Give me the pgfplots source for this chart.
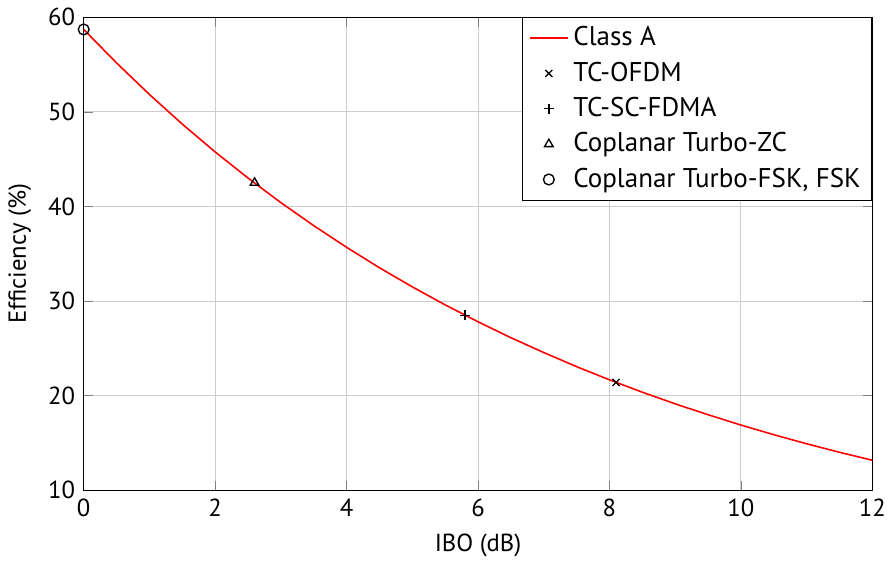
\documentclass[border=0pt,11pt]{standalone}
\usepackage{pgfplots}
\pgfplotsset{compat=1.18}
\usepackage{fontspec}
\setmainfont{PT Sans}
\begin{document}
\begin{tikzpicture}
\begin{axis}[
  scale only axis,
  width=350pt, height=210pt,
  xmin=0, xmax=12, ymin=10, ymax=60,
  xtick={0,2,...,12}, ytick={10,20,...,60},
  xlabel={IBO (dB)}, ylabel={Efficiency (\%)},
  /pgf/number format/assume math mode=true,
  grid=major, grid style={gray!40},
  legend cell align=left,
  legend style={font=\large, row sep=1.5pt, at={(1,1)}, anchor=north east},
]
\addplot[red, line width=0.7pt] coordinates {
  (0,58.7) (0.5,55.16) (1,51.83) (1.5,48.70) (2,45.76) (2.5,43.00)
  (3,40.40) (3.5,37.97) (4,35.68) (4.5,33.52) (5,31.50) (5.5,29.60)
  (6,27.81) (6.5,26.13) (7,24.56) (7.5,23.07) (8,21.68) (8.5,20.37)
  (9,19.14) (9.5,17.99) (10,16.90) (10.5,15.88) (11,14.92) (11.5,14.02)
  (12,13.18)};
\addplot[black, semithick, only marks, mark=x, mark size=2.2pt] coordinates {(8.1,21.4)};
\addplot[black, semithick, only marks, mark=+, mark size=2.2pt] coordinates {(5.8,28.5)};
\addplot[black, semithick, only marks, mark=triangle, mark size=2.2pt] coordinates {(2.6,42.5)};
\addplot[black, semithick, only marks, mark=o, mark size=2.4pt] coordinates {(0,58.7)};
\legend{Class A, TC-OFDM, TC-SC-FDMA, Coplanar Turbo-ZC, {Coplanar Turbo-FSK, FSK}}
\end{axis}
\end{tikzpicture}
\end{document}
